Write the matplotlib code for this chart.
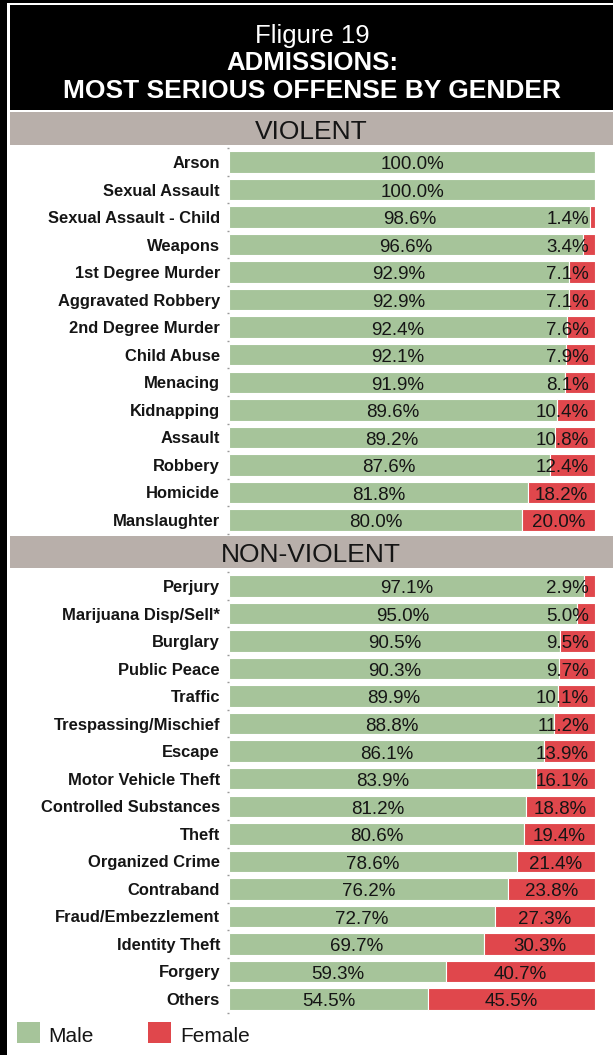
import matplotlib
matplotlib.use("Agg")
import matplotlib.pyplot as plt
from matplotlib.patches import Rectangle

plt.rcParams['font.family'] = ['Liberation Sans', 'DejaVu Sans']

# ---------------- data ----------------
violent_labels = ["Arson", "Sexual Assault", "Sexual Assault - Child", "Weapons",
                  "1st Degree Murder", "Aggravated Robbery", "2nd Degree Murder",
                  "Child Abuse", "Menacing", "Kidnapping", "Assault", "Robbery",
                  "Homicide", "Manslaughter"]
violent_male = [100.0, 100.0, 98.6, 96.6, 92.9, 92.9, 92.4, 92.1, 91.9, 89.6,
                89.2, 87.6, 81.8, 80.0]
violent_female = [0.0, 0.0, 1.4, 3.4, 7.1, 7.1, 7.6, 7.9, 8.1, 10.4, 10.8,
                  12.4, 18.2, 20.0]

nonviolent_labels = ["Perjury", "Marijuana Disp/Sell*", "Burglary", "Public Peace",
                     "Traffic", "Trespassing/Mischief", "Escape",
                     "Motor Vehicle Theft", "Controlled Substances", "Theft",
                     "Organized Crime", "Contraband", "Fraud/Embezzlement",
                     "Identity Theft", "Forgery", "Others"]
nonviolent_male = [97.1, 95.0, 90.5, 90.3, 89.9, 88.8, 86.1, 83.9, 81.2, 80.6,
                   78.6, 76.2, 72.7, 69.7, 59.3, 54.5]
nonviolent_female = [2.9, 5.0, 9.5, 9.7, 10.1, 11.2, 13.9, 16.1, 18.8, 19.4,
                     21.4, 23.8, 27.3, 30.3, 40.7, 45.5]

title_lines = ["Fligure 19", "ADMISSIONS:", "MOST SERIOUS OFFENSE BY GENDER"]
section_titles = ["VIOLENT", "NON-VIOLENT"]
legend_labels = ["Male", "Female"]

# ---------------- style ----------------
W, H = 613, 1055
GREEN = "#a6c49a"
RED = "#e0474c"
GRAY = "#b8afaa"
TXT = "#151515"

fig = plt.figure(figsize=(W / 100, H / 100), dpi=100)
fig.patch.set_facecolor("white")


def fx(x):
    return x / W


def fy(y):
    return 1 - y / H


def rect_px(x0, y0, x1, y1, color, z=0):
    fig.patches.append(Rectangle((fx(x0), fy(y1)), (x1 - x0) / W, (y1 - y0) / H,
                                 transform=fig.transFigure, facecolor=color,
                                 edgecolor="none", zorder=z))


# frame and header
rect_px(0, 0, 7, H, "black")
rect_px(0, 0, W, 3, "black")
rect_px(10, 5, W, 110, "black")
rect_px(10, 112, W, 145, GRAY)
rect_px(10, 536, W, 568, GRAY)

fig.text(fx(312), fy(33), title_lines[0], color="white", fontsize=18.5,
         ha="center", va="center_baseline")
fig.text(fx(312), fy(61), title_lines[1], color="white", fontsize=18.5,
         fontweight="bold", ha="center", va="center_baseline")
fig.text(fx(312), fy(89), title_lines[2], color="white", fontsize=19,
         fontweight="bold", ha="center", va="center_baseline")
fig.text(fx(311), fy(130), section_titles[0], color=TXT, fontsize=19,
         ha="center", va="center_baseline")
fig.text(fx(311), fy(553), section_titles[1], color=TXT, fontsize=19,
         ha="center", va="center_baseline")

XL, XR = 229, 595
SP = 27.53


def make_axes(top_center, labels, male, female):
    n = len(labels)
    top = top_center - SP / 2
    bot = top + n * SP
    ax = fig.add_axes([fx(XL), fy(bot), (XR - XL) / W, (bot - top) / H])
    ax.set_xlim(0, 100)
    ax.set_ylim(n - 0.5, -0.5)
    ys = list(range(n))
    ax.barh(ys, male, height=0.78, color=GREEN, edgecolor="white", linewidth=0.8)
    ax.barh(ys, female, left=male, height=0.78, color=RED, edgecolor="white",
            linewidth=0.8)
    for s in ax.spines.values():
        s.set_visible(False)
    ax.set_xticks([])
    ax.set_yticks(ys)
    ax.set_yticklabels(labels, fontsize=11.9, fontweight="bold", color=TXT)
    ax.tick_params(axis="y", length=0, pad=6.5)
    ax.set_yticks([i - 0.5 for i in range(n + 1)], minor=True)
    ax.tick_params(axis="y", which="minor", length=1.5, width=1, color="#999999",
                   direction="out")
    ax.patch.set_alpha(0)
    fem_texts = []
    for i in range(n):
        ax.text(male[i] / 2, i + 0.03, f"{male[i]:.1f}%", ha="center",
                va="center_baseline", fontsize=13.5, color=TXT)
        if female[i] > 0:
            t = ax.text(male[i] + female[i] / 2, i + 0.03, f"{female[i]:.1f}%",
                        ha="center", va="center_baseline", fontsize=13.5,
                        color=TXT)
            fem_texts.append((ax, t, i))
    return fem_texts


fem = make_axes(162, violent_labels, violent_male, violent_female)
fem += make_axes(586, nonviolent_labels, nonviolent_male, nonviolent_female)

# keep female labels inside the plot area
fig.canvas.draw()
r = fig.canvas.get_renderer()
LIMIT = 589
for ax, t, i in fem:
    bb = t.get_window_extent(r)
    if bb.x1 > LIMIT:
        cx = (bb.x0 + bb.x1) / 2 - (bb.x1 - LIMIT)
        cy = (bb.y0 + bb.y1) / 2
        xd = ax.transData.inverted().transform((cx, cy))[0]
        t.set_x(xd)

# legend
rect_px(17, 1022, 40, 1043, GREEN)
fig.text(fx(48), fy(1034), legend_labels[0], fontsize=15, color=TXT,
         ha="left", va="center_baseline")
rect_px(148, 1022, 171, 1043, RED)
fig.text(fx(180), fy(1034), legend_labels[1], fontsize=15, color=TXT,
         ha="left", va="center_baseline")

fig.savefig("out.png", dpi=100)
